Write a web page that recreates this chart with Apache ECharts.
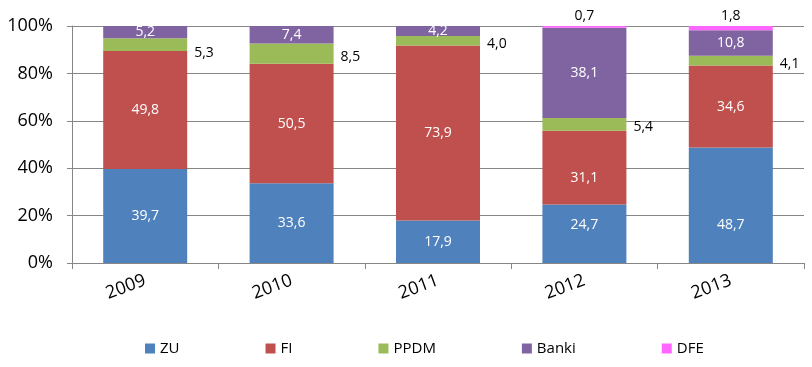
<!DOCTYPE html>
<html><head><meta charset="utf-8">
<script src="https://cdn.jsdelivr.net/npm/echarts@6/dist/echarts.min.js"></script>
<style>html,body{margin:0;padding:0;background:#fff}#c{width:812px;height:367px}</style>
</head><body><div id="c"></div>
<script>
var categories = ['2009', '2010', '2011', '2012', '2013'];
var ZU    = [39.7, 33.6, 17.9, 24.7, 48.7];
var FI    = [49.8, 50.5, 73.9, 31.1, 34.6];
var PPDM  = [5.3, 8.5, 4.0, 5.4, 4.1];
var Banki = [5.2, 7.4, 4.2, 38.1, 10.8];
var DFE   = [null, null, null, 0.7, 1.8];
var yTicks = [0, 20, 40, 60, 80, 100];

var font = '"Open Sans", "Noto Sans", sans-serif';
function fmt(p){ return p.value == null ? '' : Number(p.value).toFixed(1).replace('.', ','); }
function inside(){ return {show:true, position:'inside', color:'#fff', fontFamily:font, fontSize:14, formatter:fmt}; }

// manual label nudges as in the reference (by series, category index)
function withOffsets(vals, offs){
  return vals.map(function(v,i){
    var o = offs[i];
    return o ? {value:v, label:{offset:o}} : v;
  });
}

var chart = echarts.init(document.getElementById('c'), null, {renderer:'canvas'});
chart.setOption({
  animation:false,
  textStyle:{fontFamily:font},
  grid:{left:72, right:8, top:26, bottom:104},
  legend:{
    bottom:6, left:140, itemGap:86, itemWidth:10, itemHeight:10,
    icon:'rect', textStyle:{fontFamily:font, fontSize:15, color:'#000'},
    data:['ZU','FI','PPDM','Banki','DFE']
  },
  xAxis:{
    type:'category', data:categories,
    axisLine:{lineStyle:{color:'#868686'}},
    axisTick:{show:true, length:6, lineStyle:{color:'#868686'}},
    axisLabel:{rotate:20, color:'#000', fontFamily:font, fontSize:18, margin:17}
  },
  yAxis:{
    type:'value', min:yTicks[0], max:yTicks[yTicks.length-1], interval:20,
    axisLine:{show:true, lineStyle:{color:'#868686'}},
    axisTick:{show:true, length:5, inside:false, lineStyle:{color:'#868686'}},
    splitLine:{lineStyle:{color:'#868686'}},
    axisLabel:{color:'#000', fontFamily:font, fontSize:18, margin:19, formatter:'{value}%'}
  },
  series:[
    {name:'ZU', type:'bar', stack:'s', barWidth:84, itemStyle:{color:'#4F81BD'},
     label:inside(), data:withOffsets(ZU, [null,null,null,[0,-9],[0,20]])},
    {name:'FI', type:'bar', stack:'s', itemStyle:{color:'#C0504D'},
     label:inside(), data:withOffsets(FI, [null,null,null,[0,10],null])},
    {name:'PPDM', type:'bar', stack:'s', itemStyle:{color:'#9BBB59'},
     label:{show:true, position:'right', distance:7, color:'#000', fontFamily:font, fontSize:14, formatter:fmt, offset:[0,3]},
     data:withOffsets(PPDM, [[0,8],null,null,null,null])},
    {name:'Banki', type:'bar', stack:'s', itemStyle:{color:'#8064A2'},
     label:inside(), data:Banki},
    {name:'DFE', type:'bar', stack:'s', itemStyle:{color:'#FF66FF'},
     label:{show:true, position:'top', distance:3, color:'#000', fontFamily:font, fontSize:14, formatter:fmt},
     data:DFE}
  ]
});
</script></body></html>
